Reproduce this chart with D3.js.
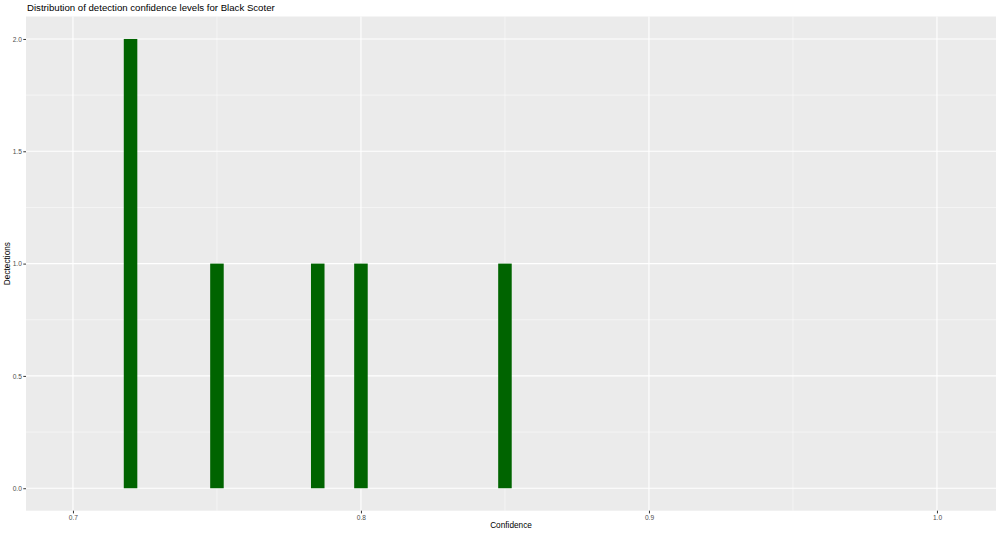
<!DOCTYPE html>
<html>
<head>
<meta charset="utf-8">
<script src="https://cdn.jsdelivr.net/npm/d3@7"></script>
<style>
  body { margin: 0; background: #fff; }
  svg text { font-family: "Liberation Sans", Arial, sans-serif; }
</style>
</head>
<body>
<div id="corpo"></div>
<script>
// dados
var confidence = [0.72, 0.75, 0.785, 0.80, 0.85]; // centro de cada barra
var detections = [2, 1, 1, 1, 1];
var binWidth = 0.0047;
var xTicks = [0.7, 0.8, 0.9, 1.0];
var xMinor = [0.75, 0.85, 0.95];
var yTicks = [0, 0.5, 1, 1.5, 2];
var yMinor = [0.25, 0.75, 1.25, 1.75];
var xLimits = [0.6837, 1.0205];
var yLimits = [-0.1, 2.1];

var width = 1000, height = 534;
var panel = { left: 26, right: 996, top: 16.5, bottom: 510.7 };

var svg = d3.select("#corpo").append("svg")
  .attr("width", width)
  .attr("height", height);

var x = d3.scaleLinear().domain(xLimits).range([panel.left, panel.right]);
var y = d3.scaleLinear().domain(yLimits).range([panel.bottom, panel.top]);

/* fundo do painel */
svg.append("rect")
  .attr("x", panel.left)
  .attr("y", panel.top)
  .attr("width", panel.right - panel.left)
  .attr("height", panel.bottom - panel.top)
  .attr("fill", "#ebebeb");

/* grades */
var grid = svg.append("g");
grid.selectAll(".xminor").data(xMinor).enter().append("line")
  .attr("x1", function(d) { return x(d); }).attr("x2", function(d) { return x(d); })
  .attr("y1", panel.top).attr("y2", panel.bottom)
  .attr("stroke", "#fff").attr("stroke-width", 0.5);
grid.selectAll(".yminor").data(yMinor).enter().append("line")
  .attr("y1", function(d) { return y(d); }).attr("y2", function(d) { return y(d); })
  .attr("x1", panel.left).attr("x2", panel.right)
  .attr("stroke", "#fff").attr("stroke-width", 0.5);
grid.selectAll(".xmajor").data(xTicks).enter().append("line")
  .attr("x1", function(d) { return x(d); }).attr("x2", function(d) { return x(d); })
  .attr("y1", panel.top).attr("y2", panel.bottom)
  .attr("stroke", "#fff").attr("stroke-width", 1.1);
grid.selectAll(".ymajor").data(yTicks).enter().append("line")
  .attr("y1", function(d) { return y(d); }).attr("y2", function(d) { return y(d); })
  .attr("x1", panel.left).attr("x2", panel.right)
  .attr("stroke", "#fff").attr("stroke-width", 1.1);

/* barras */
svg.append("g").selectAll("rect")
  .data(confidence)
  .enter().append("rect")
  .attr("x", function(d) { return x(d - binWidth / 2); })
  .attr("width", function(d) { return x(d + binWidth / 2) - x(d - binWidth / 2); })
  .attr("y", function(d, i) { return y(detections[i]); })
  .attr("height", function(d, i) { return y(0) - y(detections[i]); })
  .attr("fill", "#006400");

/* eixos */
var xAxis = d3.axisBottom(x).tickValues(xTicks).tickSize(2.7).tickPadding(1.5)
  .tickFormat(d3.format(".1f"));
var gx = svg.append("g")
  .attr("transform", "translate(0," + panel.bottom + ")")
  .call(xAxis);
var yAxis = d3.axisLeft(y).tickValues(yTicks).tickSize(2.7).tickPadding(1.5)
  .tickFormat(d3.format(".1f"));
var gy = svg.append("g")
  .attr("transform", "translate(" + panel.left + ",0)")
  .call(yAxis);

[gx, gy].forEach(function(g) {
  g.select(".domain").remove();
  g.selectAll(".tick line").attr("stroke", "#333").attr("stroke-width", 1);
  g.selectAll(".tick text").attr("fill", "#4d4d4d").attr("font-size", 6.6)
    .style("font-family", "'Liberation Sans', Arial, sans-serif");
});

/* títulos */
svg.append("text")
  .attr("x", (panel.left + panel.right) / 2)
  .attr("y", 528)
  .attr("text-anchor", "middle")
  .attr("font-size", 8.25)
  .attr("fill", "#000")
  .text("Confidence");

svg.append("text")
  .attr("transform", "translate(10," + ((panel.top + panel.bottom) / 2) + ") rotate(-90)")
  .attr("text-anchor", "middle")
  .attr("font-size", 8.25)
  .attr("fill", "#000")
  .text("Dectections");

svg.append("text")
  .attr("x", 27)
  .attr("y", 10.5)
  .attr("font-size", 9.65)
  .attr("fill", "#000")
  .text("Distribution of detection confidence levels for Black Scoter");
</script>
</body>
</html>
